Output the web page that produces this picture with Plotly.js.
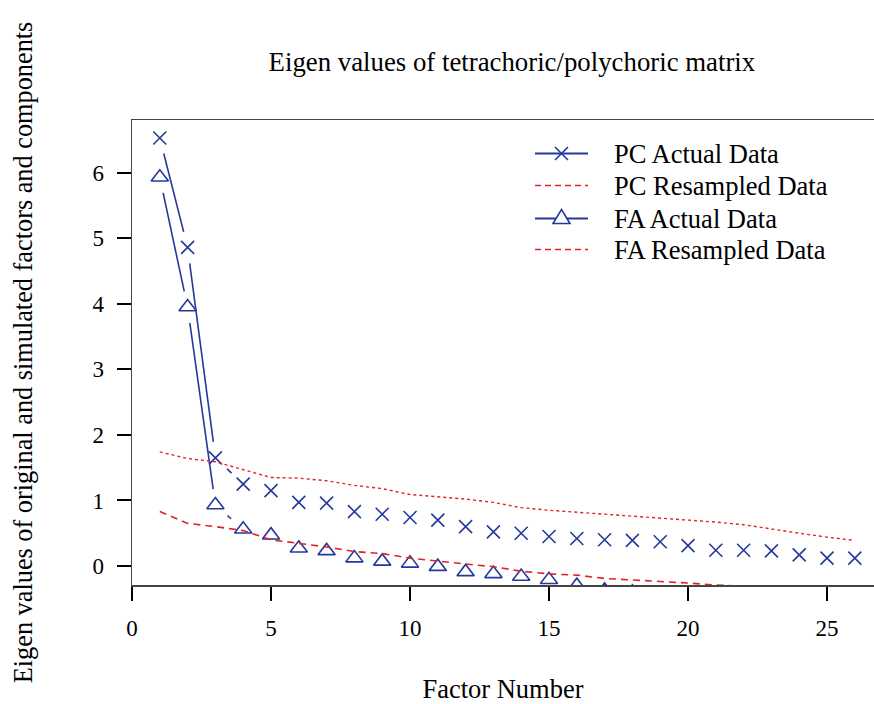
<!DOCTYPE html>
<html>
<head>
<meta charset="utf-8">
<script src="https://cdn.plot.ly/plotly-3.0.1.min.js"></script>
<style>
  html, body { margin: 0; padding: 0; background: #fff; }
  #chart { width: 874px; height: 704px; }
</style>
</head>
<body>
<div id="chart"></div>
<script>
// ---- data ----
const factorNumber = [1,2,3,4,5,6,7,8,9,10,11,12,13,14,15,16,17,18,19,20,21,22,23,24,25,26];
const pcActual    = [6.53,4.86,1.65,1.25,1.15,0.97,0.96,0.83,0.79,0.74,0.70,0.60,0.52,0.50,0.45,0.42,0.40,0.39,0.37,0.31,0.24,0.24,0.23,0.17,0.12,0.12];
const pcResampled = [1.74,1.64,1.59,1.47,1.35,1.34,1.30,1.23,1.18,1.09,1.06,1.02,0.97,0.89,0.85,0.82,0.79,0.77,0.74,0.70,0.67,0.63,0.56,0.50,0.44,0.39];
const faActual    = [5.93,3.95,0.93,0.56,0.47,0.27,0.23,0.12,0.07,0.04,-0.01,-0.09,-0.12,-0.16,-0.21,-0.30,-0.37,-0.40,-0.43,-0.46,-0.49,-0.52,-0.54,-0.56,-0.58,-0.60];
const faResampled = [0.83,0.65,0.60,0.54,0.40,0.35,0.29,0.22,0.19,0.12,0.07,0.03,-0.01,-0.08,-0.12,-0.14,-0.19,-0.21,-0.24,-0.26,-0.29,-0.31,-0.33,-0.35,-0.37,-0.39];
const seriesNames = ["PC Actual Data","PC Resampled Data","FA Actual Data","FA Resampled Data"];
const xTicks = [0,5,10,15,20,25];
const yTicks = [0,1,2,3,4,5,6];

// ---- layout constants ----
const W = 874, H = 704;
const M = {l: 132, r: 0, t: 120, b: 119};
const PW = W - M.l - M.r, PH = H - M.t - M.b;
const xRange = [0, 26.69];
const yRange = [-0.29, 6.804];
const blue = "#26399a";
const red = "#e0232a";
const serif = "Liberation Serif, Times New Roman, serif";

// R type="b" style: line segments between points, with a gap around each point
function gapped(xs, ys, gapPx) {
  const sx = PW / (xRange[1] - xRange[0]);
  const sy = PH / (yRange[1] - yRange[0]);
  const gx = [], gy = [];
  for (let i = 0; i < xs.length - 1; i++) {
    const dx = xs[i+1] - xs[i], dy = ys[i+1] - ys[i];
    const d = Math.hypot(dx * sx, dy * sy);
    if (d > 2 * gapPx) {
      const t = gapPx / d;
      gx.push(xs[i] + dx * t, xs[i+1] - dx * t, null);
      gy.push(ys[i] + dy * t, ys[i+1] - dy * t, null);
    }
  }
  return {x: gx, y: gy};
}

const pcSeg = gapped(factorNumber, pcActual, 16);
const faSeg = gapped(factorNumber, faActual, 16);

const traces = [
  {x: faSeg.x, y: faSeg.y, mode: "lines", hoverinfo: "skip",
   line: {color: blue, width: 1.6}},
  {x: pcSeg.x, y: pcSeg.y, mode: "lines", hoverinfo: "skip",
   line: {color: blue, width: 1.6}},
  {x: factorNumber, y: pcActual, mode: "markers", name: seriesNames[0],
   marker: {symbol: "x-thin-open", size: 13, color: blue, line: {color: blue, width: 1.6}}},
  {x: factorNumber, y: faActual, mode: "markers", name: seriesNames[2],
   marker: {symbol: "triangle-up-open", size: 15, color: blue, line: {color: blue, width: 1.6}}},
  {x: factorNumber, y: pcResampled, mode: "lines", name: seriesNames[1],
   line: {color: red, width: 1.4, dash: "3px,3px"}},
  {x: factorNumber, y: faResampled, mode: "lines", name: seriesNames[3],
   line: {color: red, width: 1.6, dash: "7px,5px"}}
];

// ---- hand-drawn legend (R style) ----
const px = v => (v - M.l) / PW;          // pixel x -> paper x
const py = v => 1 - (v - M.t) / PH;      // pixel y -> paper y
const legRows = [153.5, 185.5, 218.5, 249.5];
const legLine = [535, 588], legMark = 561.5, legText = 612;
const shapes = [];
const annotations = [];
const legStyles = [
  {color: blue, dash: "solid", width: 2, mark: "x"},
  {color: red, dash: "6px,4px", width: 1.6, mark: null},
  {color: blue, dash: "solid", width: 2, mark: "tri"},
  {color: red, dash: "6px,4px", width: 1.6, mark: null}
];
legRows.forEach((ry, i) => {
  const s = legStyles[i];
  shapes.push({type: "line", xref: "paper", yref: "paper",
    x0: px(legLine[0]), x1: px(legLine[1]), y0: py(ry), y1: py(ry),
    line: {color: s.color, width: s.width, dash: s.dash}});
  if (s.mark === "x") {
    const r = 6.5;
    shapes.push({type: "path", xref: "paper", yref: "paper",
      path: `M${px(legMark - r)},${py(ry - r)} L${px(legMark + r)},${py(ry + r)} M${px(legMark - r)},${py(ry + r)} L${px(legMark + r)},${py(ry - r)}`,
      line: {color: blue, width: 1.6}});
  } else if (s.mark === "tri") {
    const hw = 8.5;
    shapes.push({type: "path", xref: "paper", yref: "paper",
      path: `M${px(legMark - hw)},${py(ry + 5)} L${px(legMark + hw)},${py(ry + 5)} L${px(legMark)},${py(ry - 9)} Z`,
      fillcolor: "#fff", line: {color: blue, width: 1.6}});
  }
  annotations.push({xref: "paper", yref: "paper", x: px(legText), y: py(ry),
    xanchor: "left", yanchor: "middle", showarrow: false, text: seriesNames[i],
    font: {family: serif, size: 26.5, color: "#000"}});
});

const layout = {
  width: W, height: H,
  margin: M,
  paper_bgcolor: "#fff", plot_bgcolor: "#fff",
  font: {family: serif, color: "#000", size: 23},
  showlegend: false,
  title: {text: "Eigen values of tetrachoric/polychoric matrix",
          font: {family: serif, size: 26.8, color: "#000"},
          x: 0.512, xref: "paper", xanchor: "center",
          y: 1 - 62 / H, yref: "container", yanchor: "middle"},
  xaxis: {
    range: xRange, tickvals: xTicks, ticktext: xTicks.map(String),
    showgrid: false, zeroline: false,
    showline: true, linecolor: "#444", linewidth: 1.5, mirror: true,
    ticks: "outside", ticklen: 14, tickwidth: 2, tickcolor: "#000",
    ticklabelstandoff: 8,
    tickfont: {family: serif, size: 23, color: "#000"},
    title: {text: "Factor Number", font: {family: serif, size: 26.5, color: "#000"}, standoff: 54}
  },
  yaxis: {
    range: yRange, tickvals: yTicks, ticktext: yTicks.map(String),
    showgrid: false, zeroline: false,
    showline: true, linecolor: "#444", linewidth: 1.5,
    ticks: "outside", ticklen: 14, tickwidth: 2, tickcolor: "#000",
    ticklabelstandoff: 8,
    tickfont: {family: serif, size: 23, color: "#000"},
    title: {text: "Eigen values of original and simulated factors and components",
            font: {family: serif, size: 26.3, color: "#000"}, standoff: 52}
  },
  shapes: shapes,
  annotations: annotations
};

Plotly.newPlot("chart", traces, layout, {displayModeBar: false, staticPlot: true});
</script>
</body>
</html>
